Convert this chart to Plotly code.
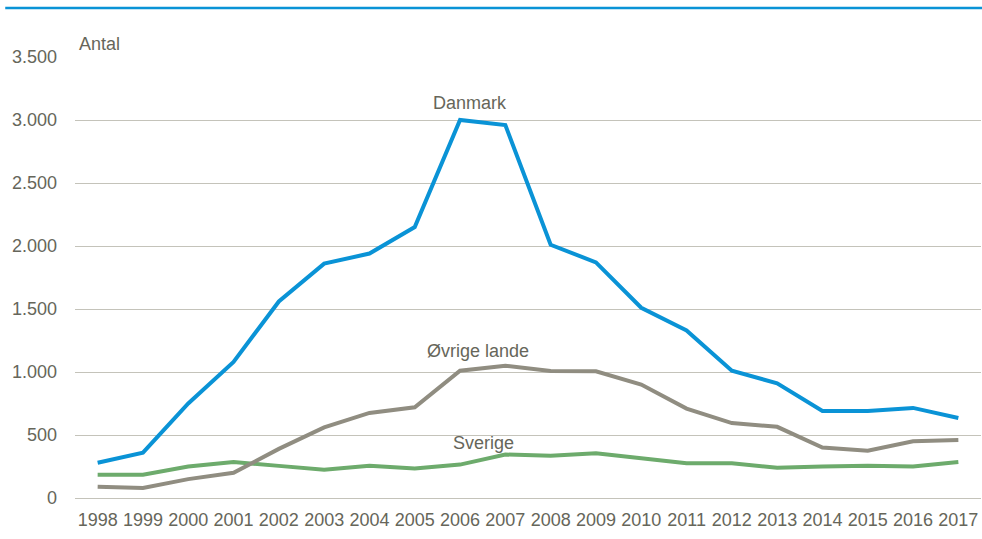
import plotly.graph_objects as go

BLUE = "#0A93D6"
GRAY = "#908D81"
GREEN = "#6DAB6C"
TEXT = "#66665A"
GRID = "#C4C3BA"

years = [str(y) for y in range(1998, 2018)]
danmark = [280, 360, 750, 1080, 1560, 1860, 1940, 2150, 3000, 2960,
           2010, 1870, 1510, 1330, 1010, 910, 690, 690, 715, 635]
ovrige = [90, 80, 150, 200, 390, 560, 675, 720, 1010, 1050,
          1008, 1005, 900, 710, 595, 565, 400, 375, 450, 460]
sverige = [185, 185, 250, 286, 255, 225, 255, 235, 265, 345,
           335, 355, 315, 275, 275, 240, 250, 255, 250, 285]

series = [
    ("Sverige", sverige, GREEN),
    ("Øvrige lande", ovrige, GRAY),
    ("Danmark", danmark, BLUE),
]

fig = go.Figure()
for name, values, color in series:
    fig.add_trace(go.Scatter(
        x=years, y=values, mode="lines", name=name,
        line=dict(color=color, width=4),
        hovertemplate="%{x}: %{y}<extra>" + name + "</extra>",
    ))

# labels next to the curves (x given as category index, numeric-looking names confuse annotations)
i06 = years.index("2006")
for text, y, shift in (("Danmark", 3135, 10), ("Øvrige lande", 1167, 18), ("Sverige", 437, 23)):
    fig.add_annotation(x=i06, y=y, text=text, showarrow=False, xshift=shift,
                       font=dict(size=18, color=TEXT))

fig.add_annotation(x=0.0, xref="paper", y=1.03, yref="paper", text="Antal", showarrow=False,
                   xanchor="left", yanchor="middle", xshift=2, font=dict(size=18, color=TEXT))

fig.add_shape(type="line", xref="paper", yref="paper", x0=-0.077, x1=1.002,
              y0=1.111, y1=1.111, line=dict(color=BLUE, width=2.5))

fig.update_layout(
    width=982, height=539,
    margin=dict(l=75, r=1, t=57, b=41),
    paper_bgcolor="white", plot_bgcolor="white",
    showlegend=False,
    separators=",.",
    font=dict(family="Liberation Sans, Arial, sans-serif", size=18, color=TEXT),
)
fig.update_xaxes(type="category", range=[-0.5, 19.5], showgrid=False, showline=False,
                 ticks="", ticklabelstandoff=9, tickfont=dict(size=18, color=TEXT))
fig.update_yaxes(range=[0, 3500], dtick=500, tickformat=",d", gridcolor=GRID, gridwidth=1.3,
                 zeroline=True, zerolinecolor=GRID, zerolinewidth=1.3, showline=False,
                 ticks="", ticklabelstandoff=17, tickfont=dict(size=18, color=TEXT))

fig.write_html("out.html", config={"displayModeBar": False},
               post_script="document.body.style.margin='0';")
